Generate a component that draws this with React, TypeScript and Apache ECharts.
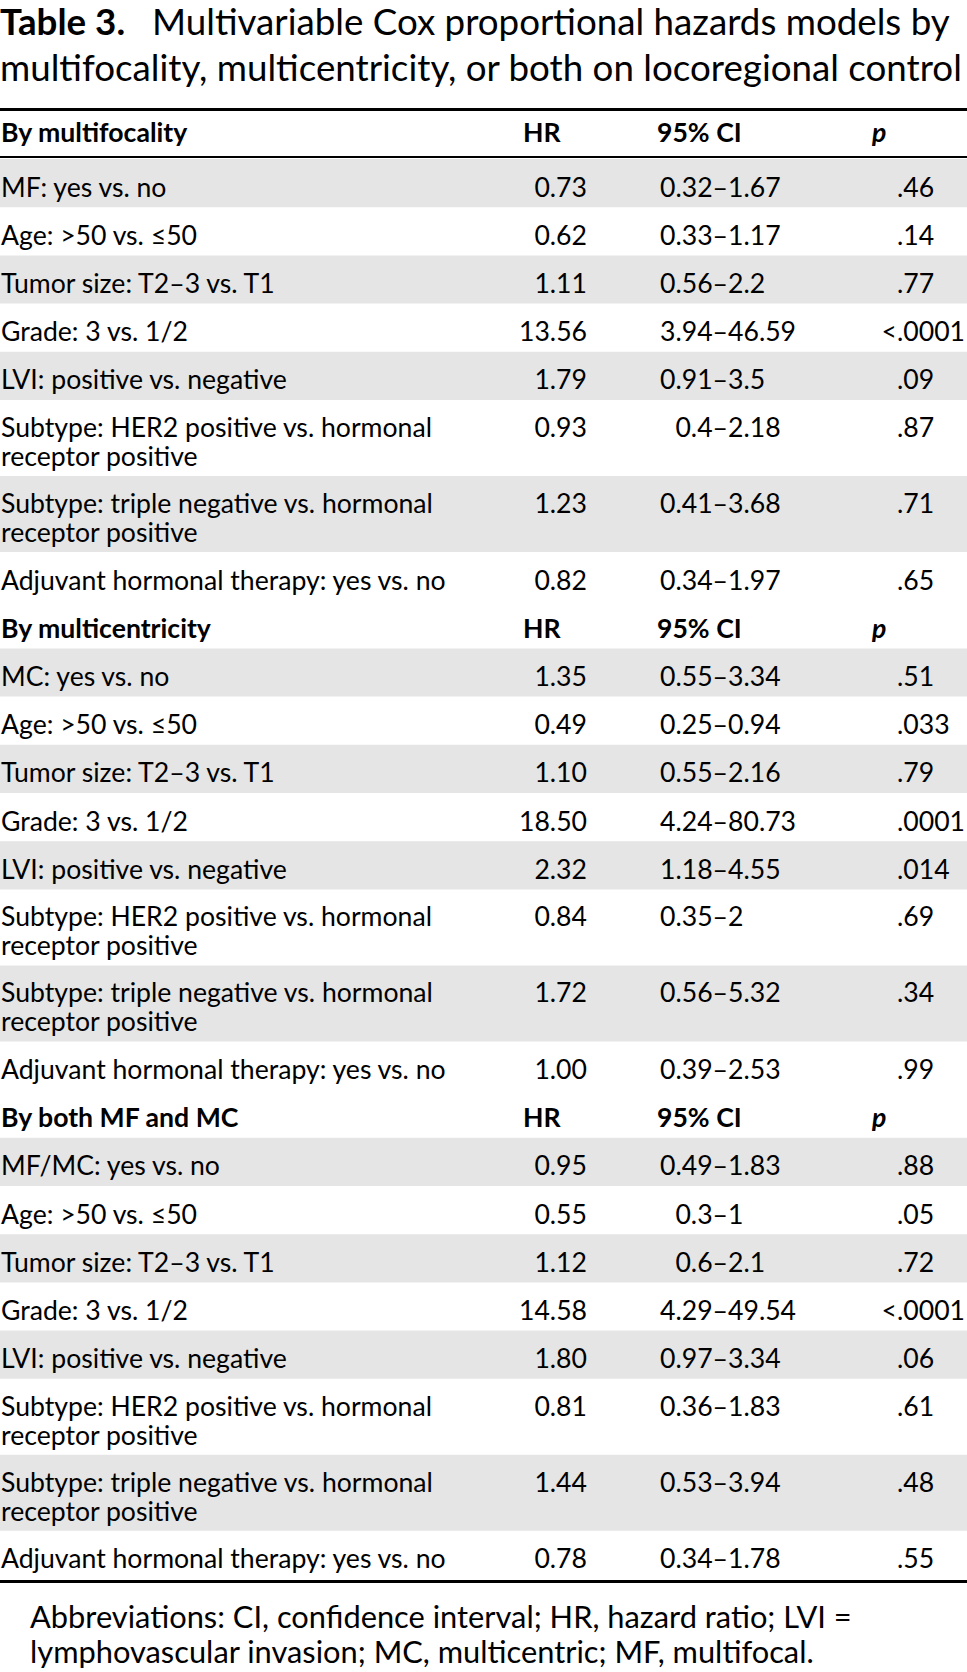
import React, { useEffect, useRef } from "react";
import * as echarts from "echarts";

// ---------- data ----------
const titleLabel = "Table 3.";
const titleLine1 = "Multivariable Cox proportional hazards models by";
const titleLine2 = "multifocality, multicentricity, or both on locoregional control";

const sectionTitles = ["By multifocality", "By multicentricity", "By both MF and MC"];
const columnHeaders = ["HR", "95% CI", "p"];

const exposureLabels = ["MF: yes vs. no", "MC: yes vs. no", "MF/MC: yes vs. no"];
const sharedLabels = [
  "Age: >50 vs. \u226450",
  "Tumor size: T2\u20133 vs. T1",
  "Grade: 3 vs. 1/2",
  "LVI: positive vs. negative",
  "Subtype: HER2 positive vs. hormonal\nreceptor positive",
  "Subtype: triple negative vs. hormonal\nreceptor positive",
  "Adjuvant hormonal therapy: yes vs. no",
];

const hrMultifocality = ["0.73", "0.62", "1.11", "13.56", "1.79", "0.93", "1.23", "0.82"];
const ciLowMultifocality = ["0.32", "0.33", "0.56", "3.94", "0.91", "0.4", "0.41", "0.34"];
const ciHighMultifocality = ["1.67", "1.17", "2.2", "46.59", "3.5", "2.18", "3.68", "1.97"];
const pMultifocality = [".46", ".14", ".77", "<.0001", ".09", ".87", ".71", ".65"];

const hrMulticentricity = ["1.35", "0.49", "1.10", "18.50", "2.32", "0.84", "1.72", "1.00"];
const ciLowMulticentricity = ["0.55", "0.25", "0.55", "4.24", "1.18", "0.35", "0.56", "0.39"];
const ciHighMulticentricity = ["3.34", "0.94", "2.16", "80.73", "4.55", "2", "5.32", "2.53"];
const pMulticentricity = [".51", ".033", ".79", ".0001", ".014", ".69", ".34", ".99"];

const hrBoth = ["0.95", "0.55", "1.12", "14.58", "1.80", "0.81", "1.44", "0.78"];
const ciLowBoth = ["0.49", "0.3", "0.6", "4.29", "0.97", "0.36", "0.53", "0.34"];
const ciHighBoth = ["1.83", "1", "2.1", "49.54", "3.34", "1.83", "3.94", "1.78"];
const pBoth = [".88", ".05", ".72", "<.0001", ".06", ".61", ".48", ".55"];

const footnoteLines = [
  "Abbreviations: CI, confidence interval; HR, hazard ratio; LVI =",
  "lymphovascular invasion; MC, multicentric; MF, multifocal.",
];

// ---------- layout ----------
const W = 967;
const H = 1672;
const FONT = "Lato";
const GRAY = "#e5e5e5";
const INK = "#000000";

const TOP_RULE_Y = 108;
const HEADER1_CENTER = 132;
const HEAD_RULE_Y = 156;
const ROWS_START = 159;
const SINGLE = 48.2;
const DOUBLE = 76;
const LINE_GAP = 29;
const TEXT_SHIFT = 3.5;

const LABEL_X = 1;
const HR_RIGHT = 587;
const HR_HEAD_X = 523;
const CI_LEFT = 660;
const CI_HEAD_X = 657;
const P_DOT = 897;
const P_HEAD_X = 872;

const FOOT_X = 30;
const FOOT_Y1 = 1616;
const FOOT_Y2 = 1651;

function buildGraphics() {
  const ctx = document.createElement("canvas").getContext("2d") as CanvasRenderingContext2D;
  const tw = (t: string, size: number, weight = "normal", style = "normal") => {
    ctx.font = `${style} ${weight} ${size}px ${FONT}`;
    return ctx.measureText(t).width;
  };

  const bodySize = (24 * 446) / tw(sharedLabels[6], 24);
  const titleSize = (32 * 963) / tw(titleLine2, 32);
  const footSize = (26 * 822) / tw(footnoteLines[0], 26);

  const els: any[] = [];
  const text = (
    x: number,
    y: number,
    t: string,
    size: number,
    opts: { align?: string; weight?: string; style?: string; lineHeight?: number } = {}
  ) => {
    els.push({
      type: "text",
      x,
      y,
      silent: true,
      style: {
        text: t,
        fill: INK,
        fontFamily: FONT,
        fontSize: size,
        fontWeight: opts.weight || "normal",
        fontStyle: opts.style || "normal",
        align: opts.align || "left",
        verticalAlign: "middle",
        lineHeight: opts.lineHeight || size,
      },
    });
  };
  const rect = (x: number, y: number, w: number, h: number, fill: string) => {
    els.push({ type: "rect", silent: true, shape: { x, y, width: w, height: h }, style: { fill } });
  };

  // title
  text(0, 21, titleLabel, titleSize, { weight: "bold" });
  text(152, 21, titleLine1, titleSize);
  text(0, 67, titleLine2, titleSize);

  const sections = [
    { hr: hrMultifocality, lo: ciLowMultifocality, hi: ciHighMultifocality, p: pMultifocality },
    { hr: hrMulticentricity, lo: ciLowMulticentricity, hi: ciHighMulticentricity, p: pMulticentricity },
    { hr: hrBoth, lo: ciLowBoth, hi: ciHighBoth, p: pBoth },
  ];

  const ciDash = CI_LEFT + tw("0.32", bodySize);

  const header = (yc: number, si: number) => {
    text(LABEL_X, yc, sectionTitles[si], bodySize, { weight: "bold" });
    text(HR_HEAD_X, yc, columnHeaders[0], bodySize, { weight: "bold" });
    text(CI_HEAD_X, yc, columnHeaders[1], bodySize, { weight: "bold" });
    text(P_HEAD_X, yc, columnHeaders[2], bodySize, { weight: "bold", style: "italic" });
  };

  rect(0, TOP_RULE_Y, W, 3, INK);
  header(HEADER1_CENTER, 0);
  rect(0, HEAD_RULE_Y, W, 2, INK);

  let y = ROWS_START;
  sections.forEach((sec, si) => {
    if (si > 0) {
      header(y + SINGLE / 2 + TEXT_SHIFT, si);
      y += SINGLE;
    }
    const labels = [exposureLabels[si], ...sharedLabels];
    labels.forEach((label, ri) => {
      const two = label.includes("\n");
      const h = two ? DOUBLE : SINGLE;
      if (ri % 2 === 0) rect(0, y, W, h, GRAY);
      const firstY = (two ? y + DOUBLE / 2 - LINE_GAP / 2 : y + SINGLE / 2) + TEXT_SHIFT;
      text(LABEL_X, two ? y + DOUBLE / 2 + TEXT_SHIFT : firstY, label, bodySize, { lineHeight: LINE_GAP });
      text(HR_RIGHT, firstY, sec.hr[ri], bodySize, { align: "right" });
      const ci = `${sec.lo[ri]}\u2013${sec.hi[ri]}`;
      text(ciDash - tw(sec.lo[ri], bodySize), firstY, ci, bodySize);
      const pv = sec.p[ri];
      const prefix = pv.slice(0, pv.indexOf("."));
      text(P_DOT - tw(prefix, bodySize), firstY, pv, bodySize);
      y += h;
    });
  });

  rect(0, y + 1, W, 3, INK);

  text(FOOT_X, FOOT_Y1, footnoteLines[0], footSize);
  text(FOOT_X, FOOT_Y2, footnoteLines[1], footSize);

  return els;
}

export default function App() {
  const ref = useRef<HTMLDivElement>(null);
  useEffect(() => {
    document.body.style.margin = "0";
    const chart = echarts.init(ref.current as HTMLDivElement, undefined, { renderer: "svg", width: W, height: H });
    chart.setOption({
      animation: false,
      backgroundColor: "#ffffff",
      graphic: { elements: buildGraphics() },
    });
    return () => chart.dispose();
  }, []);
  return <div ref={ref} style={{ width: W, height: H, background: "#fff" }} />;
}
